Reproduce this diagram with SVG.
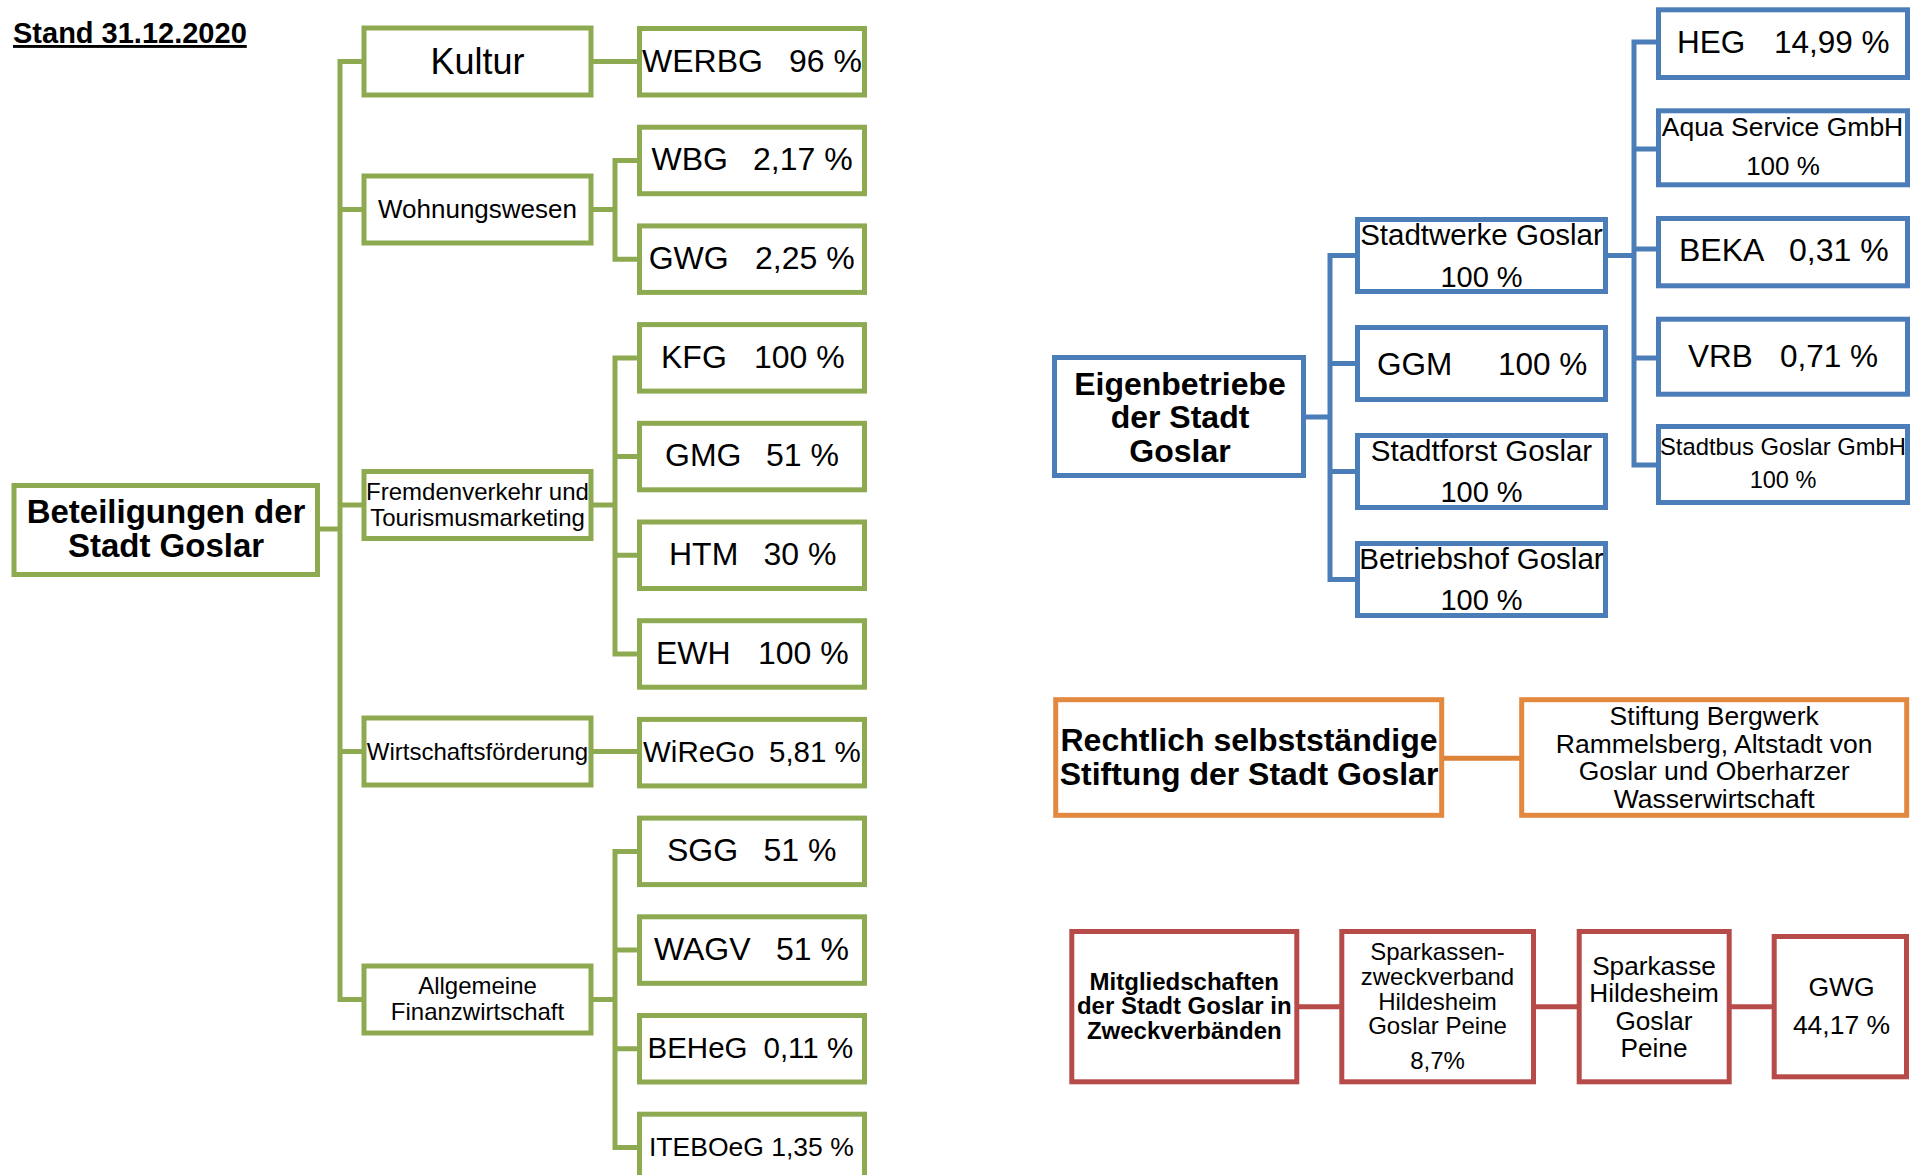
<svg xmlns="http://www.w3.org/2000/svg" width="1910" height="1175" viewBox="0 0 1910 1175">
<style>
text{font-family:"Liberation Sans",Arial,sans-serif;fill:#000}
.b{font-weight:bold}
.c{text-anchor:middle}
.g{fill:#fff;stroke:#8DAA50;stroke-width:5}
.bl{fill:#fff;stroke:#4B7DB8;stroke-width:5}
.o{fill:#fff;stroke:#E2883F;stroke-width:5}
.r{fill:#fff;stroke:#B64B49;stroke-width:5}
.cg{fill:none;stroke:#8DAA50;stroke-width:5}
.cb{fill:none;stroke:#4B7DB8;stroke-width:5}
.co{fill:none;stroke:#DD8239;stroke-width:5}
.cr{fill:none;stroke:#B64B49;stroke-width:5}
.f32{font-size:32px}
.f24{font-size:24px}
</style>
<text id="stand" class="b" x="13" y="43" font-size="29" text-decoration="underline">Stand 31.12.2020</text>
<g id="connectors">
<path class="cg" d="M318 529H340M364 61.5H340V999.5H364M340 209.5H364M340 505H364M340 751.5H364"/>
<path class="cg" d="M591 61.5H639.5M591 209.5H615M639.5 160.5H615V259.2H639.5"/>
<path class="cg" d="M591 505H615M639.5 357.9H615V654H639.5M615 456.6H639.5M615 555.3H639.5"/>
<path class="cg" d="M591 751.5H639.5"/>
<path class="cg" d="M591 999.5H615M639.5 851.4H615V1147.5H639.5M615 950.1H639.5M615 1048.8H639.5"/>
<path class="cb" d="M1306 417H1330M1357.5 255.5H1330V579.5H1357.5M1330 363.5H1357.5M1330 471.5H1357.5"/>
<path class="cb" d="M1605.5 255.5H1634M1658.5 42H1634V465H1658.5M1634 149H1658.5M1634 249H1658.5M1634 358H1658.5"/>
<path class="co" d="M1441.5 758.3H1521.7"/>
<path class="cr" d="M1296.8 1006.7H1341.8M1533.5 1006.7H1579.2M1729.2 1006.7H1774.2"/>
</g>
<g id="beteiligungen"><rect class="g" x="14" y="485.5" width="303.5" height="89"/><text class="b c" x="166" y="522.5" font-size="33">Beteiligungen der</text><text class="b c" x="166" y="557" font-size="33">Stadt Goslar</text></g>
<g id="kultur"><rect class="g" x="364" y="28" width="227" height="67"/><text class="c" x="477.5" y="73.5" font-size="36">Kultur</text></g>
<g id="wohnungswesen"><rect class="g" x="364" y="176" width="227" height="67"/><text class="c" x="477.5" y="218" font-size="26">Wohnungswesen</text></g>
<g id="fremdenverkehr"><rect class="g" x="364" y="471.5" width="227" height="67"/><text class="c f24" x="477.5" y="500">Fremdenverkehr und</text><text class="c f24" x="477.5" y="525.5">Tourismusmarketing</text></g>
<g id="wirtschaft"><rect class="g" x="364" y="718" width="227" height="67"/><text class="c f24" x="477.5" y="759.5">Wirtschaftsförderung</text></g>
<g id="allgemeine"><rect class="g" x="364" y="966" width="227" height="67"/><text class="c f24" x="477.5" y="994">Allgemeine</text><text class="c f24" x="477.5" y="1019.5">Finanzwirtschaft</text></g>
<g id="werbg"><rect class="g" x="639.5" y="28.5" width="225" height="66.5"/><text class="f32" y="71.5"><tspan x="642">WERBG</tspan><tspan x="789">96 %</tspan></text></g>
<g id="wbg"><rect class="g" x="639.5" y="127.2" width="225" height="66.5"/><text class="f32" y="170.2"><tspan x="651.5">WBG</tspan><tspan x="753">2,17 %</tspan></text></g>
<g id="gwg1"><rect class="g" x="639.5" y="225.9" width="225" height="66.5"/><text class="f32" y="268.9"><tspan x="648.7">GWG</tspan><tspan x="755">2,25 %</tspan></text></g>
<g id="kfg"><rect class="g" x="639.5" y="324.6" width="225" height="66.5"/><text class="f32" y="367.6"><tspan x="661">KFG</tspan><tspan x="754">100 %</tspan></text></g>
<g id="gmg"><rect class="g" x="639.5" y="423.3" width="225" height="66.5"/><text class="f32" y="466.3"><tspan x="665">GMG</tspan><tspan x="766">51 %</tspan></text></g>
<g id="htm"><rect class="g" x="639.5" y="522" width="225" height="66.5"/><text class="f32" y="565"><tspan x="669">HTM</tspan><tspan x="763.5">30 %</tspan></text></g>
<g id="ewh"><rect class="g" x="639.5" y="620.7" width="225" height="66.5"/><text class="f32" y="663.7"><tspan x="656">EWH</tspan><tspan x="758">100 %</tspan></text></g>
<g id="wirego"><rect class="g" x="639.5" y="719.4" width="225" height="66.5"/><text font-size="29.5" y="761.5"><tspan x="643">WiReGo</tspan><tspan x="769">5,81 %</tspan></text></g>
<g id="sgg"><rect class="g" x="639.5" y="818.1" width="225" height="66.5"/><text class="f32" y="861.1"><tspan x="667">SGG</tspan><tspan x="763.5">51 %</tspan></text></g>
<g id="wagv"><rect class="g" x="639.5" y="916.8" width="225" height="66.5"/><text class="f32" y="959.8"><tspan x="654">WAGV</tspan><tspan x="776">51 %</tspan></text></g>
<g id="beheg"><rect class="g" x="639.5" y="1015.5" width="225" height="66.5"/><text font-size="29.5" y="1057.5"><tspan x="647.5">BEHeG</tspan><tspan x="763.5">0,11 %</tspan></text></g>
<g id="iteboeg"><rect class="g" x="639.5" y="1114.2" width="225" height="66.5"/><text x="649" y="1156" font-size="26.5">ITEBOeG 1,35 %</text></g>
<g id="eigenbetriebe"><rect class="bl" x="1054.5" y="357.5" width="249" height="118"/><text class="b c f32" x="1180" y="394.5">Eigenbetriebe</text><text class="b c f32" x="1180" y="428">der Stadt</text><text class="b c f32" x="1180" y="461.5">Goslar</text></g>
<g id="stadtwerke"><rect class="bl" x="1357.5" y="219.5" width="248" height="72"/><text class="c" x="1481.5" y="244.5" font-size="29.5">Stadtwerke Goslar</text><text class="c" x="1481.5" y="286.5" font-size="29">100 %</text></g>
<g id="ggm"><rect class="bl" x="1357.5" y="327.5" width="248" height="72"/><text font-size="31.5" y="374.5"><tspan x="1377">GGM</tspan><tspan x="1498">100 %</tspan></text></g>
<g id="stadtforst"><rect class="bl" x="1357.5" y="435.5" width="248" height="72"/><text class="c" x="1481.5" y="460.5" font-size="29.5">Stadtforst Goslar</text><text class="c" x="1481.5" y="502" font-size="29">100 %</text></g>
<g id="betriebshof"><rect class="bl" x="1357.5" y="543.5" width="248" height="72"/><text class="c" x="1481.5" y="568.5" font-size="29.5">Betriebshof Goslar</text><text class="c" x="1481.5" y="610" font-size="29">100 %</text></g>
<g id="heg"><rect class="bl" x="1658.5" y="9.8" width="249" height="67.7"/><text font-size="31.5" y="53"><tspan x="1677">HEG</tspan><tspan x="1774">14,99 %</tspan></text></g>
<g id="aqua"><rect class="bl" x="1658.5" y="110.8" width="249" height="74"/><text class="c" x="1782.5" y="136" font-size="26.5">Aqua Service GmbH</text><text class="c" x="1783" y="175" font-size="26">100 %</text></g>
<g id="beka"><rect class="bl" x="1658.5" y="218.5" width="249" height="67.3"/><text class="f32" y="261"><tspan x="1679">BEKA</tspan><tspan x="1789">0,31 %</tspan></text></g>
<g id="vrb"><rect class="bl" x="1658.5" y="319.2" width="249" height="75"/><text font-size="31.5" y="366.7"><tspan x="1688">VRB</tspan><tspan x="1780">0,71 %</tspan></text></g>
<g id="stadtbus"><rect class="bl" x="1658.5" y="426.5" width="249" height="76"/><text class="c" x="1783" y="455" font-size="23.8">Stadtbus Goslar GmbH</text><text class="c" x="1783" y="488.3" font-size="23.5">100 %</text></g>
<g id="rechtlich"><rect class="o" x="1055.7" y="699.7" width="386" height="115.6"/><text class="b c f32" x="1249" y="750.7">Rechtlich selbstständige</text><text class="b c f32" x="1249" y="785">Stiftung der Stadt Goslar</text></g>
<g id="stiftung"><rect class="o" x="1521.7" y="699.7" width="385" height="115.6"/><text class="c" x="1714.2" y="725" font-size="26.5">Stiftung Bergwerk</text><text class="c" x="1714.2" y="752.7" font-size="26.5">Rammelsberg, Altstadt von</text><text class="c" x="1714.2" y="780" font-size="26.5">Goslar und Oberharzer</text><text class="c" x="1714.2" y="807.7" font-size="26.5">Wasserwirtschaft</text></g>
<g id="mitglied"><rect class="r" x="1071.8" y="931.5" width="225" height="150.3"/><text class="b c f24" x="1184.3" y="989.8">Mitgliedschaften</text><text class="b c f24" x="1184.3" y="1013.8">der Stadt Goslar in</text><text class="b c f24" x="1184.3" y="1038.8">Zweckverbänden</text></g>
<g id="zweckverband"><rect class="r" x="1341.8" y="931.5" width="191.7" height="150.3"/><text class="c f24" x="1437.5" y="959.8">Sparkassen-</text><text class="c f24" x="1437.5" y="984.5">zweckverband</text><text class="c f24" x="1437.5" y="1009.8">Hildesheim</text><text class="c f24" x="1437.5" y="1033.8">Goslar Peine</text><text class="c f24" x="1437.5" y="1068.8">8,7%</text></g>
<g id="sparkasse"><rect class="r" x="1579.2" y="931.5" width="150" height="150.3"/><text class="c" x="1654" y="975" font-size="26.2">Sparkasse</text><text class="c" x="1654" y="1002.4" font-size="26.2">Hildesheim</text><text class="c" x="1654" y="1030" font-size="26.2">Goslar</text><text class="c" x="1654" y="1057.4" font-size="26.2">Peine</text></g>
<g id="gwg2"><rect class="r" x="1774.2" y="936.5" width="132.3" height="140.3"/><text class="c" x="1841.5" y="995.5" font-size="26.5">GWG</text><text class="c" x="1841.5" y="1033.8" font-size="26.5">44,17 %</text></g>
</svg>
